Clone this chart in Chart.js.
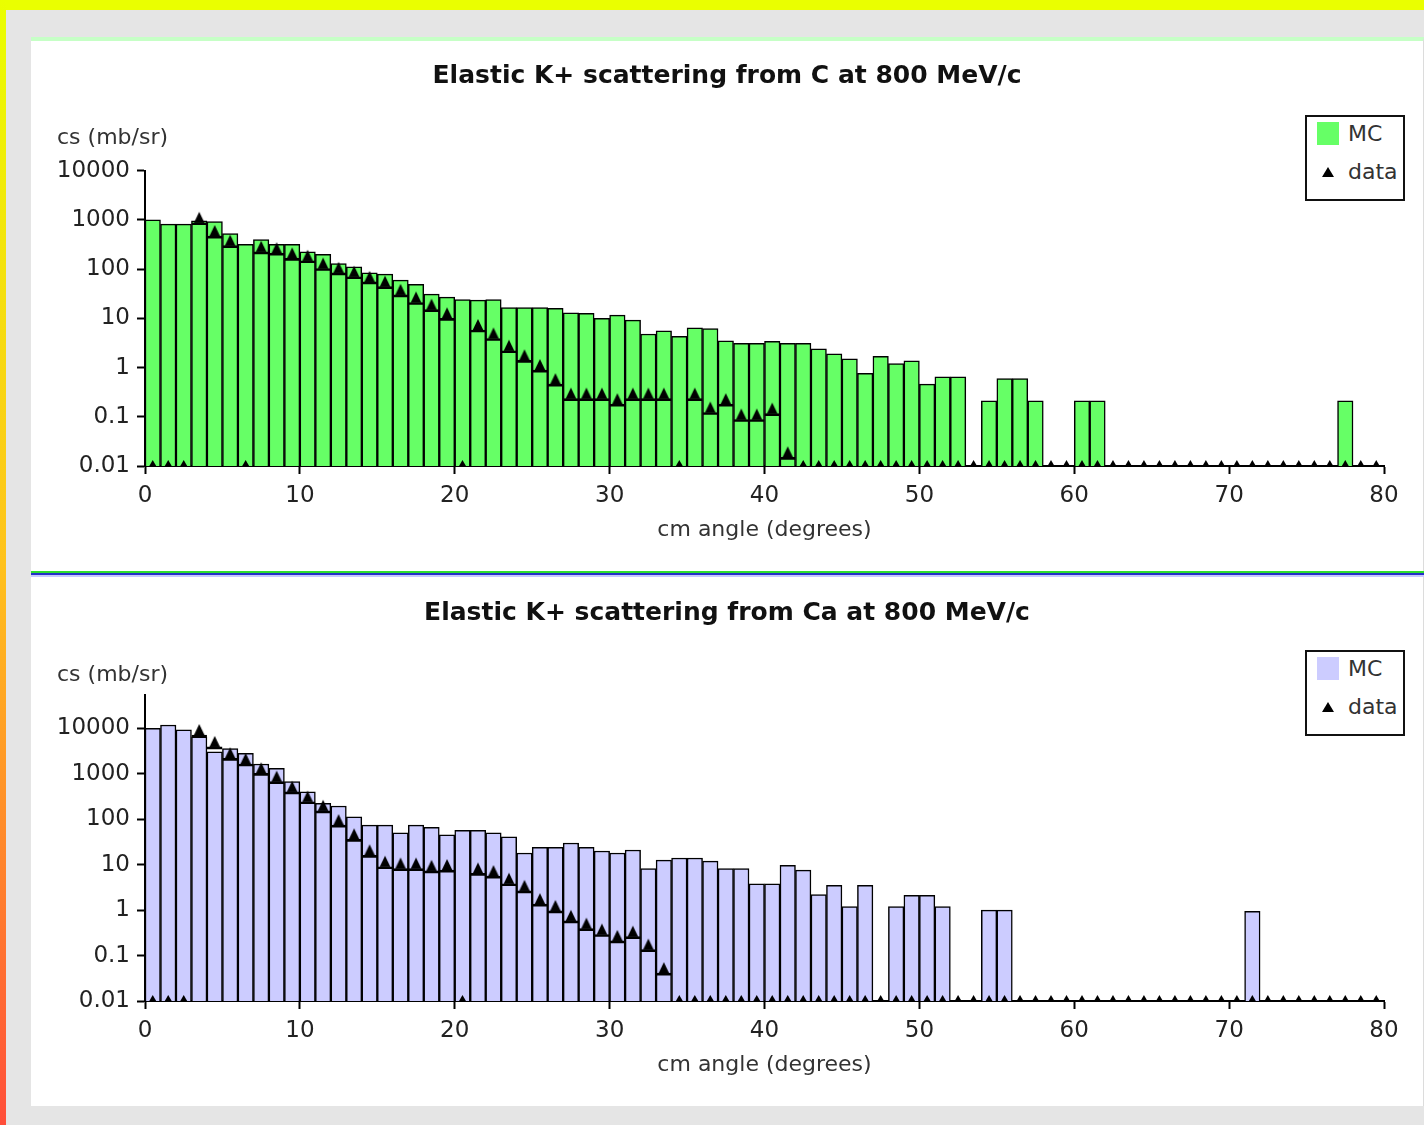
<!DOCTYPE html>
<html>
<head>
<meta charset="utf-8">
<script src="https://cdn.jsdelivr.net/npm/chart.js@4.4.0/dist/chart.umd.min.js"></script>
<style>
  html, body { margin: 0; padding: 0; }
  body { width: 1424px; height: 1125px; background: #e5e5e5; position: relative; overflow: hidden; font-family: 'DejaVu Sans', sans-serif; }
  #topband { position: absolute; left: 0; top: 0; width: 1424px; height: 10px; background: #eaff00; }
  #leftband { position: absolute; left: 0; top: 0; width: 6px; height: 1125px; background: linear-gradient(#eaff00, #ffc21c 50%, #ff4e3a); }
  #panel { position: absolute; left: 31px; top: 37px; width: 1393px; height: 1069px; background: #fff; border-top: 4px solid #c6ffc6; border-right: 1px solid #dcdcdc; box-sizing: border-box; }
  #divider { position: absolute; left: 31px; top: 571px; width: 1393px; height: 6px; background: linear-gradient(#2fdc2f 0 2px, #2430c8 2px 4px, #c8c8ff 4px 6px); }
  canvas { position: absolute; left: 31px; }
  #c1 { top: 41px; }
  #c2 { top: 577px; }
  .ytitle { position: absolute; left: 57px; font-size: 22px; line-height: 26px; color: #333; white-space: nowrap; }
  .legend { position: absolute; left: 1305px; width: 100px; height: 86px; border: 2px solid #111; box-sizing: border-box; background: #fff; }
  .legend .sw { position: absolute; left: 10px; top: 5px; width: 22px; height: 23px; }
  .legend .lt { position: absolute; left: 41px; font-size: 22px; line-height: 26px; color: #333; }
  .legend .tri { position: absolute; left: 15px; top: 50px; width: 0; height: 0; border-left: 6px solid transparent; border-right: 6px solid transparent; border-bottom: 10px solid #000; }
</style>
</head>
<body>
<div id="topband"></div>
<div id="leftband"></div>
<div id="panel"></div>
<div id="divider"></div>
<canvas id="c1" width="1392" height="530"></canvas>
<canvas id="c2" width="1392" height="529"></canvas>
<div class="ytitle" style="top:124px">cs (mb/sr)</div>
<div class="ytitle" style="top:661px">cs (mb/sr)</div>
<div class="legend" style="top:115px">
  <div class="sw" style="background:#66ff66"></div><span class="lt" style="top:4px">MC</span>
  <div class="tri"></div><span class="lt" style="top:42px">data</span>
</div>
<div class="legend" style="top:650px">
  <div class="sw" style="background:#ccccff"></div><span class="lt" style="top:4px">MC</span>
  <div class="tri"></div><span class="lt" style="top:42px">data</span>
</div>
<script>
// 1-degree bins, 0..80 degrees
const angleBins = Array.from({length: 80}, (_, i) => i + 0.5);
const yTickValues = [0.01, 0.1, 1, 10, 100, 1000, 10000];
const yTickLabels = ['0.01', '0.1', '1', '10', '100', '1000', '10000'];
const yMin = 0.01;

// carbon, MC histogram (0 = empty bin)
const mcCarbon = [
  1000, 820, 820, 960, 920, 530, 320, 400, 320, 320,
  225, 200, 130, 111, 84, 79, 60, 49, 31, 27,
  24, 23.5, 24, 16.6, 16.6, 16.6, 15.9, 13, 12.6, 10,
  11.6, 9.2, 4.8, 5.6, 4.3, 6.4, 6.2, 3.5, 3.1, 3.1,
  3.4, 3.1, 3.1, 2.4, 1.9, 1.5, 0.76, 1.7, 1.2, 1.37,
  0.46, 0.65, 0.65, 0, 0.21, 0.6, 0.6, 0.21, 0, 0,
  0.21, 0.21, 0, 0, 0, 0, 0, 0, 0, 0,
  0, 0, 0, 0, 0, 0, 0, 0.21, 0, 0
];
// carbon, measured
const dataCarbon = [
  0, 0, 0, 875, 470, 300, 0, 225, 210, 165,
  148, 103, 84, 70, 55, 44, 30, 21, 15, 10,
  0, 5.8, 3.9, 2.2, 1.4, 0.89, 0.46, 0.234, 0.234, 0.234,
  0.18, 0.234, 0.234, 0.234, 0, 0.234, 0.122, 0.18, 0.088, 0.088,
  0.116, 0.015, 0, 0, 0, 0, 0, 0, 0, 0,
  0, 0, 0, 0, 0, 0, 0, 0, 0, 0,
  0, 0, 0, 0, 0, 0, 0, 0, 0, 0,
  0, 0, 0, 0, 0, 0, 0, 0, 0, 0
];
// calcium, MC histogram
const mcCalcium = [
  10000, 11800, 9200, 6500, 3050, 3600, 2800, 1640, 1310, 670,
  400, 222, 195, 113, 74, 74, 50, 74, 66, 45,
  57, 57, 50, 41, 18, 24, 24, 30, 24, 20,
  18, 21, 8.2, 12.6, 14, 14, 12, 8.2, 8.2, 3.8,
  3.8, 9.7, 7.6, 2.2, 3.5, 1.2, 3.5, 0, 1.2, 2.1,
  2.1, 1.2, 0, 0, 1.0, 1.0, 0, 0, 0, 0,
  0, 0, 0, 0, 0, 0, 0, 0, 0, 0,
  0, 0.94, 0, 0, 0, 0, 0, 0, 0, 0
];
// calcium, measured
const dataCalcium = [
  0, 0, 0, 7100, 3900, 2180, 1640, 1020, 670, 400,
  242, 153, 74, 36, 16, 9, 8.2, 8.2, 7.3, 7.6,
  0, 6.4, 5.6, 3.8, 2.65, 1.35, 0.96, 0.58, 0.39, 0.29,
  0.21, 0.26, 0.135, 0.041, 0, 0, 0, 0, 0, 0,
  0, 0, 0, 0, 0, 0, 0, 0, 0, 0,
  0, 0, 0, 0, 0, 0, 0, 0, 0, 0,
  0, 0, 0, 0, 0, 0, 0, 0, 0, 0,
  0, 0, 0, 0, 0, 0, 0, 0, 0, 0
];

Chart.defaults.font.family = "'DejaVu Sans', sans-serif";

// triangle marker sitting on its point (base at the value)
function triangleMarker() {
  const c = document.createElement('canvas');
  c.width = 12; c.height = 24;
  const g = c.getContext('2d');
  g.fillStyle = '#000';
  g.beginPath();
  g.moveTo(0.5, 12.5); g.lineTo(6, 1); g.lineTo(11.5, 12.5);
  g.closePath(); g.fill();
  return c;
}
const tri = triangleMarker();

function makeChart(id, title, mc, meas, fill, yMax, titlePad) {
  return new Chart(document.getElementById(id), {
    type: 'bar',
    data: {
      datasets: [
        {
          type: 'line', label: 'data',
          data: angleBins.map((x, i) => ({x, y: meas[i] > 0 ? meas[i] : yMin})),
          showLine: false,
          pointStyle: c => meas[c.dataIndex] > 0 ? tri : 'triangle',
          pointRadius: 6, pointBorderWidth: 0,
          pointBackgroundColor: '#000', pointBorderColor: '#000',
          clip: 0, order: 0
        },
        {
          type: 'bar', label: 'data bins',
          data: angleBins.map((x, i) => ({x, y: meas[i] > 0 ? meas[i] : null})),
          backgroundColor: 'rgba(0,0,0,0)', borderColor: '#000',
          borderWidth: {top: 2, left: 0, right: 0, bottom: 0}, borderSkipped: false,
          grouped: false, barPercentage: 1, categoryPercentage: 1, order: 1
        },
        {
          type: 'bar', label: 'MC',
          data: angleBins.map((x, i) => ({x, y: mc[i] > 0 ? mc[i] : null})),
          backgroundColor: fill, borderColor: '#000', borderWidth: 1.5,
          grouped: false, barPercentage: 1, categoryPercentage: 1, order: 2
        }
      ]
    },
    options: {
      responsive: false,
      animation: false,
      devicePixelRatio: 1,
      layout: {padding: 0},
      plugins: {
        legend: {display: false},
        tooltip: {enabled: false},
        title: {
          display: true, text: title, color: '#111',
          font: {size: 25, weight: 'bold'},
          padding: {top: titlePad[0], bottom: titlePad[1]}
        }
      },
      scales: {
        x: {
          type: 'linear', min: 0, max: 80, offset: false,
          ticks: {stepSize: 10, color: '#222', font: {size: 23}, padding: 8, maxRotation: 0},
          grid: {offset: false, drawOnChartArea: false, tickLength: 8, tickColor: '#000', tickWidth: 2},
          border: {color: '#000', width: 2},
          title: {display: true, text: 'cm angle (degrees)', color: '#333', font: {size: 22}, padding: {top: 0, bottom: 28}},
          afterFit: s => { s.height = 105; }
        },
        y: {
          type: 'logarithmic', min: yMin, max: yMax,
          afterBuildTicks: s => { s.ticks = yTickValues.map(v => ({value: v})); },
          ticks: {callback: (v, i) => yTickLabels[i], color: '#222', font: {size: 23}, padding: 7},
          grid: {drawOnChartArea: false, tickLength: 8, tickColor: '#000', tickWidth: 2},
          border: {color: '#000', width: 2},
          afterFit: s => { s.width = 114; }
        },
        // empty margin on the right, keeps the title centred on the panel
        yRight: {
          type: 'linear', position: 'right',
          ticks: {display: false},
          grid: {display: false},
          border: {display: false},
          afterFit: s => { s.width = 39; }
        }
      }
    }
  });
}

makeChart('c1', 'Elastic K+ scattering from C at 800 MeV/c', mcCarbon, dataCarbon, '#66ff66', 10000, [20, 79.7]);
makeChart('c2', 'Elastic K+ scattering from Ca at 800 MeV/c', mcCalcium, dataCalcium, '#ccccff', 54000, [21, 67]);
</script>
</body>
</html>
